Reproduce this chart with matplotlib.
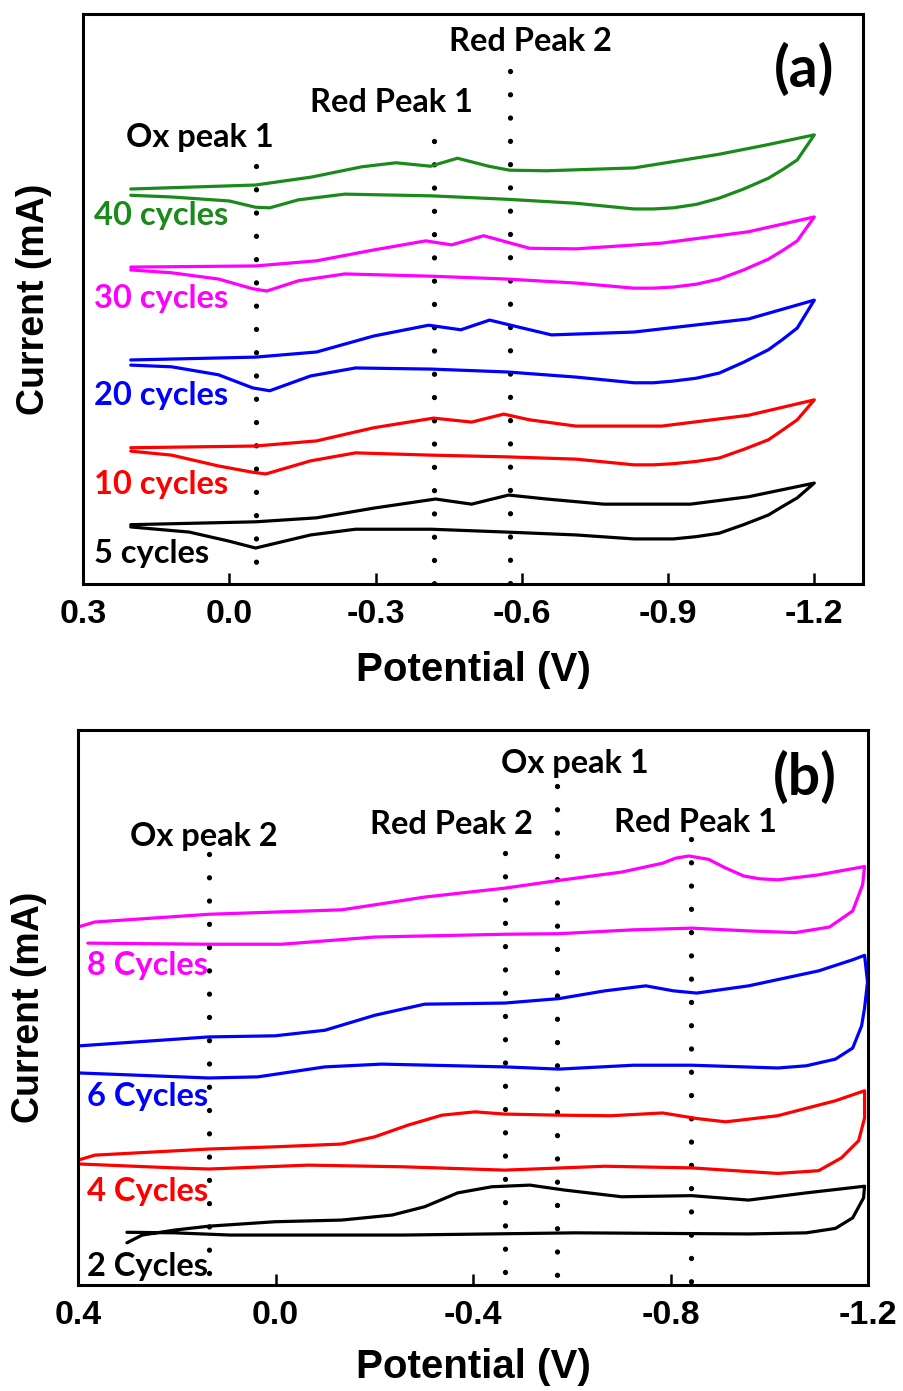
import matplotlib as mpl
mpl.use('Agg')
import matplotlib.pyplot as plt

# ---------------- panel (a) data : potential (V) / current (arb. mA, offset) -------------
a40_v = [0.202, -0.054, -0.169, -0.272, -0.342, -0.413, -0.468, -0.532, -0.575, -0.651, -0.830, -1.005, -1.100, -1.200,
         -1.165, -1.135, -1.106, -1.055, -1.005, -0.958, -0.911, -0.870, -0.830, -0.711, -0.569, -0.415, -0.237, -0.142,
         -0.083, -0.054, 0.000, 0.118, 0.202]
a40_i = [6.93, 7.00, 7.14, 7.32, 7.39, 7.33, 7.47, 7.33, 7.26, 7.25, 7.30, 7.54, 7.70, 7.88,
         7.44, 7.27, 7.12, 6.93, 6.77, 6.66, 6.60, 6.58, 6.58, 6.68, 6.75, 6.81, 6.84, 6.74,
         6.60, 6.61, 6.72, 6.79, 6.82]

a30_v = [0.202, -0.054, -0.179, -0.296, -0.403, -0.456, -0.522, -0.569, -0.616, -0.711, -0.887, -1.065, -1.200,
         -1.165, -1.135, -1.106, -1.055, -1.005, -0.958, -0.911, -0.870, -0.830, -0.711, -0.569, -0.415, -0.237, -0.142,
         -0.077, -0.048, 0.022, 0.118, 0.202]
a30_i = [5.56, 5.58, 5.67, 5.86, 6.02, 5.95, 6.11, 6.00, 5.89, 5.88, 5.98, 6.18, 6.44,
         6.02, 5.85, 5.70, 5.51, 5.35, 5.26, 5.21, 5.19, 5.19, 5.28, 5.35, 5.40, 5.44, 5.32,
         5.14, 5.18, 5.35, 5.46, 5.51]

a20_v = [0.202, -0.054, -0.179, -0.296, -0.409, -0.475, -0.534, -0.592, -0.661, -0.830, -1.065, -1.200,
         -1.165, -1.135, -1.106, -1.055, -1.005, -0.958, -0.911, -0.870, -0.830, -0.711, -0.569, -0.415, -0.259, -0.167,
         -0.083, -0.048, 0.022, 0.118, 0.202]
a20_i = [3.93, 3.98, 4.07, 4.35, 4.54, 4.46, 4.63, 4.51, 4.37, 4.42, 4.65, 4.98,
         4.49, 4.29, 4.11, 3.89, 3.70, 3.61, 3.56, 3.53, 3.53, 3.63, 3.72, 3.77, 3.79, 3.65,
         3.39, 3.44, 3.67, 3.81, 3.84]

a10_v = [0.202, -0.054, -0.179, -0.296, -0.419, -0.497, -0.563, -0.616, -0.711, -0.887, -1.065, -1.200,
         -1.165, -1.135, -1.106, -1.055, -1.005, -0.958, -0.911, -0.870, -0.830, -0.711, -0.569, -0.415, -0.259, -0.167,
         -0.075, -0.048, 0.022, 0.118, 0.202]
a10_i = [2.39, 2.42, 2.51, 2.74, 2.91, 2.84, 2.98, 2.88, 2.77, 2.77, 2.96, 3.23,
         2.88, 2.70, 2.53, 2.36, 2.21, 2.15, 2.11, 2.09, 2.09, 2.19, 2.23, 2.26, 2.30, 2.16,
         1.93, 1.96, 2.07, 2.26, 2.33]

a5_v = [0.202, -0.054, -0.179, -0.296, -0.423, -0.497, -0.573, -0.651, -0.768, -0.946, -1.065, -1.200,
        -1.165, -1.135, -1.106, -1.055, -1.005, -0.958, -0.911, -0.870, -0.830, -0.711, -0.569, -0.415, -0.259, -0.167,
        -0.054, 0.000, 0.082, 0.202]
a5_i = [1.04, 1.09, 1.16, 1.33, 1.49, 1.40, 1.56, 1.49, 1.40, 1.40, 1.53, 1.77,
        1.51, 1.36, 1.21, 1.04, 0.89, 0.83, 0.79, 0.79, 0.79, 0.86, 0.91, 0.96, 0.96, 0.86,
        0.63, 0.75, 0.91, 1.00]

a_labels = ['40 cycles', '30 cycles', '20 cycles', '10 cycles', '5 cycles']
a_label_y = [6.46, 5.00, 3.30, 1.75, 0.54]
a_peak_names = ['Ox peak 1', 'Red Peak 1', 'Red Peak 2']
a_peak_v = [-0.055, -0.420, -0.575]
a_peak_top = [7.33, 7.77, 9.00]
a_text_xy = [(0.061, 7.84), (-0.333, 8.44), (-0.618, 9.51)]

# ---------------- panel (b) data -------------
b8_v = [0.400, 0.366, 0.135, -0.134, -0.201, -0.302, -0.464, -0.574, -0.701, -0.784, -0.810, -0.837, -0.877, -0.910, -0.948,
        -0.980, -1.017, -1.100, -1.193,
        -1.189, -1.169, -1.122, -1.053, -0.958, -0.843, -0.725, -0.574, -0.464, -0.201, -0.013, 0.135, 0.380]
b8_i = [6.45, 6.54, 6.68, 6.76, 6.85, 6.99, 7.15, 7.29, 7.44, 7.60, 7.69, 7.73, 7.67, 7.52, 7.37,
        7.32, 7.30, 7.39, 7.54,
        7.21, 6.74, 6.45, 6.35, 6.38, 6.43, 6.40, 6.33, 6.32, 6.27, 6.14, 6.14, 6.16]

b6_v = [0.396, 0.135, 0.001, -0.100, -0.201, -0.302, -0.464, -0.574, -0.667, -0.750, -0.806, -0.853, -0.958, -1.100, -1.169, -1.193,
        -1.199, -1.193, -1.187, -1.169, -1.134, -1.075, -1.017, -0.843, -0.725, -0.574, -0.464, -0.215, -0.100, 0.036, 0.135, 0.396]
b6_i = [4.31, 4.47, 4.49, 4.59, 4.86, 5.06, 5.08, 5.16, 5.30, 5.39, 5.30, 5.26, 5.39, 5.66, 5.86, 5.94,
        5.46, 4.99, 4.67, 4.27, 4.07, 3.95, 3.91, 3.96, 3.96, 3.89, 3.93, 3.98, 3.93, 3.75, 3.73, 3.82]

b4_v = [0.400, 0.366, 0.135, 0.001, -0.134, -0.201, -0.268, -0.337, -0.404, -0.464, -0.574, -0.679, -0.784, -0.853, -0.912, -1.017, -1.134, -1.193,
        -1.193, -1.181, -1.146, -1.100, -1.017, -0.843, -0.667, -0.464, -0.258, -0.066, 0.135, 0.204, 0.396]
b4_i = [2.25, 2.34, 2.45, 2.49, 2.54, 2.67, 2.88, 3.06, 3.12, 3.08, 3.06, 3.05, 3.10, 3.00, 2.94, 3.05, 3.32, 3.50,
        3.01, 2.60, 2.29, 2.06, 2.01, 2.11, 2.14, 2.07, 2.13, 2.16, 2.09, 2.11, 2.18]

b2_v = [0.301, 0.270, 0.204, 0.135, 0.001, -0.134, -0.236, -0.302, -0.369, -0.438, -0.515, -0.586, -0.701, -0.843, -0.958, -1.075, -1.193,
        -1.191, -1.169, -1.134, -1.075, -0.958, -0.608, -0.258, 0.092, 0.204, 0.301]
b2_i = [0.76, 0.90, 0.99, 1.06, 1.14, 1.17, 1.26, 1.41, 1.66, 1.77, 1.80, 1.71, 1.59, 1.61, 1.53, 1.66, 1.78,
        1.57, 1.21, 1.02, 0.94, 0.92, 0.94, 0.90, 0.90, 0.94, 0.95]

b_labels = ['8 Cycles', '6 Cycles', '4 Cycles', '2 Cycles']
b_label_y = [5.75, 3.39, 1.68, 0.34]
b_peak_names = ['Ox peak 2', 'Red Peak 2', 'Ox peak 1', 'Red Peak 1']
b_peak_v = [0.135, -0.464, -0.571, -0.842]
b_peak_top = [7.77, 7.78, 8.99, 8.04]
b_text_xy = [(0.145, 8.09), (-0.357, 8.29), (-0.606, 9.39), (-0.851, 8.34)]

a_ticks = [0.3, 0.0, -0.3, -0.6, -0.9, -1.2]
b_ticks = [0.4, 0.0, -0.4, -0.8, -1.2]

colors_a = ['#1b8a1b', '#ff00ff', '#0000ff', '#ff0000', '#000000']
colors_b = ['#ff00ff', '#0000ff', '#ff0000', '#000000']

ANN = dict(family='Lato', weight='bold')
TICK = dict(family='Liberation Sans', weight='bold')


def style_axes(ax, xlim, ticks, xpad):
    ax.set_xlim(*xlim)
    ax.set_ylim(0, 10)
    ax.set_xticks(ticks)
    ax.set_xticklabels(['%.1f' % t for t in ticks], fontdict=dict(size=24.5, **TICK))
    ax.set_yticks([])
    ax.tick_params(axis='x', direction='in', length=8, width=1.8, pad=11)
    for sp in ax.spines.values():
        sp.set_linewidth(2.2)
    ax.set_xlabel('Potential (V)', fontsize=29, labelpad=xpad, **TICK)
    ax.set_ylabel('Current (mA)', fontsize=27, labelpad=22, **TICK)


def draw_peaks(ax, names, pv, tops, txy):
    for name, v, top, (tx, ty) in zip(names, pv, tops, txy):
        ax.plot([v, v], [top, 0], color='black', lw=3.8, linestyle=(0, (0.01, 4.4)),
                dash_capstyle='round', zorder=1)
        ax.text(tx, ty, name, ha='center', va='center', fontsize=23.5, **ANN)


fig = plt.figure(figsize=(9.04, 13.91), dpi=100)
ax_a = fig.add_axes([0.0918, 0.5802, 0.8629, 0.4097])
ax_b = fig.add_axes([0.0863, 0.0762, 0.8739, 0.3990])

# panel (a)
style_axes(ax_a, (0.3, -1.3), a_ticks, 15)
draw_peaks(ax_a, a_peak_names, a_peak_v, a_peak_top, a_text_xy)
for (v, i), c, lab, ly in zip([(a40_v, a40_i), (a30_v, a30_i), (a20_v, a20_i), (a10_v, a10_i), (a5_v, a5_i)],
                              colors_a, a_labels, a_label_y):
    ax_a.plot(v, i, color=c, lw=2.3, solid_joinstyle='round', solid_capstyle='round', zorder=2)
    ax_a.text(0.278, ly, lab, color=c, ha='left', va='center', fontsize=23.5, **ANN)
ax_a.text(-1.178, 9.02, '(a)', ha='center', va='center', fontsize=41, **ANN)

# panel (b)
style_axes(ax_b, (0.4, -1.2), b_ticks, 12)
draw_peaks(ax_b, b_peak_names, b_peak_v, b_peak_top, b_text_xy)
for (v, i), c, lab, ly in zip([(b8_v, b8_i), (b6_v, b6_i), (b4_v, b4_i), (b2_v, b2_i)],
                              colors_b, b_labels, b_label_y):
    ax_b.plot(v, i, color=c, lw=2.3, solid_joinstyle='round', solid_capstyle='round', zorder=2)
    ax_b.text(0.382, ly, lab, color=c, ha='left', va='center', fontsize=23.5, **ANN)
ax_b.text(-1.071, 9.14, '(b)', ha='center', va='center', fontsize=41, **ANN)

fig.savefig('out.png', dpi=100)
